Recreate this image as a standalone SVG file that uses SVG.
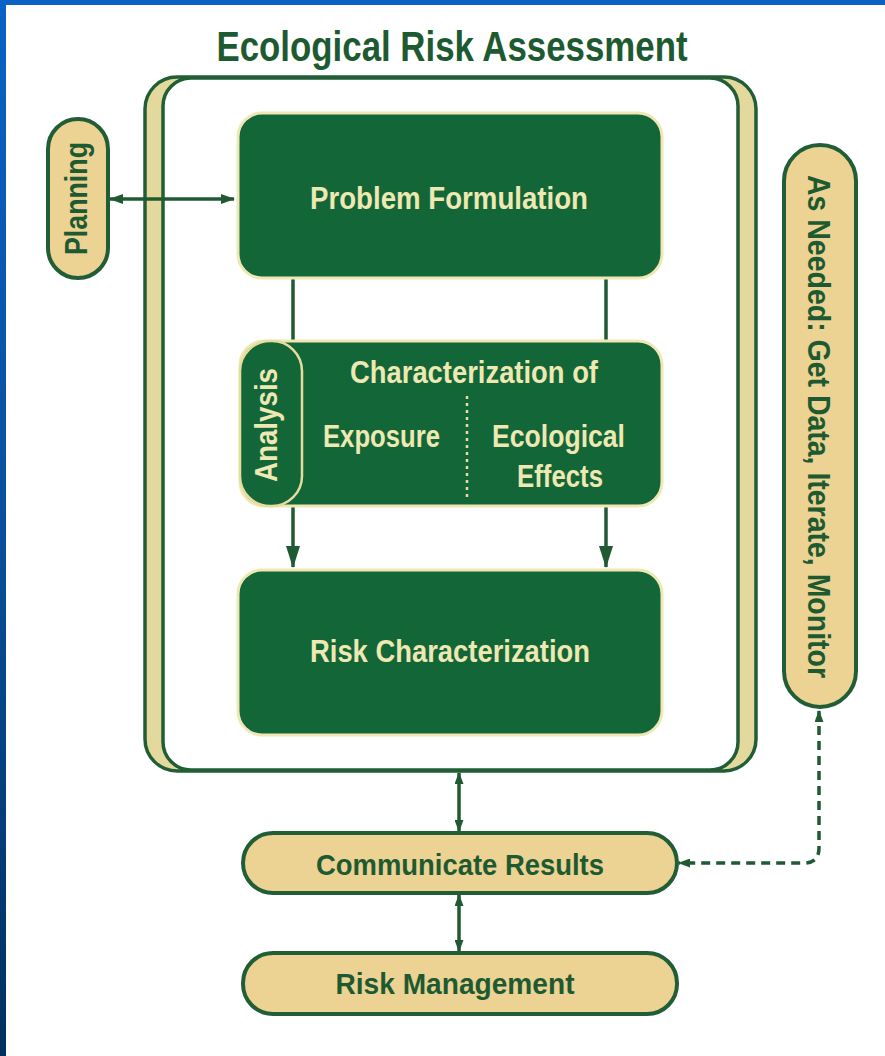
<svg xmlns="http://www.w3.org/2000/svg" width="885" height="1056" viewBox="0 0 885 1056">
<defs>
<style>
.t{font-family:"Liberation Sans",Arial,sans-serif;font-weight:bold}
.lt{fill:#eee8b2}
.dk{fill:#1e5a31}
.gbox{fill:#136638;stroke:#efe7b4;stroke-width:3}
.pill{fill:#ecd293;stroke:#215e36;stroke-width:4}
.ln{stroke:#1f5a33;stroke-width:3.5;fill:none}
.fr{stroke:#215e36;stroke-width:3.5}
</style>
<linearGradient id="blue" x1="0" y1="0" x2="0" y2="1">
<stop offset="0" stop-color="#0a62c6"/>
<stop offset="0.5" stop-color="#0a4f9e"/>
<stop offset="1" stop-color="#00305e"/>
</linearGradient>
<marker id="ah" viewBox="0 0 14 10" refX="13" refY="5" markerWidth="14" markerHeight="10" markerUnits="userSpaceOnUse" orient="auto-start-reverse">
<path d="M0,0 L14,5 L0,10 z" fill="#1f5a33"/>
</marker>
<marker id="ahs" viewBox="0 0 12 9" refX="11" refY="4.5" markerWidth="12" markerHeight="9" markerUnits="userSpaceOnUse" orient="auto-start-reverse">
<path d="M0,0 L12,4.5 L0,9 z" fill="#1f5a33"/>
</marker>
<marker id="ahL" viewBox="0 0 22 14" refX="21" refY="7" markerWidth="22" markerHeight="14" markerUnits="userSpaceOnUse" orient="auto">
<path d="M0,0 L22,7 L0,14 z" fill="#1f5a33"/>
</marker>
</defs>
<rect x="0" y="0" width="885" height="1056" fill="#ffffff"/>
<rect x="0" y="0" width="6" height="1056" fill="url(#blue)"/>
<rect x="0" y="0" width="885" height="5" fill="#0a62c6"/>

<g id="title">
<text class="t dk" x="452" y="61" font-size="42" text-anchor="middle" textLength="471" lengthAdjust="spacingAndGlyphs">Ecological Risk Assessment</text>
</g>

<g id="frame">
<rect class="fr" x="145" y="77" width="611" height="694" rx="32" fill="#e4d99c"/>
<rect class="fr" x="163" y="78" width="575" height="692" rx="28" fill="#ffffff"/>
</g>

<g id="connectors">
<line class="ln" x1="110" y1="199" x2="234" y2="199" marker-start="url(#ah)" marker-end="url(#ah)"/>
<line class="ln" x1="293" y1="279" x2="293" y2="341"/>
<line class="ln" x1="606" y1="279" x2="606" y2="341"/>
<line class="ln" x1="293" y1="507" x2="293" y2="567" marker-end="url(#ahL)"/>
<line class="ln" x1="606" y1="507" x2="606" y2="567" marker-end="url(#ahL)"/>
<line class="ln" x1="459" y1="773" x2="459" y2="831" marker-start="url(#ahs)" marker-end="url(#ahs)"/>
<line class="ln" x1="459" y1="895" x2="459" y2="951" marker-start="url(#ahs)" marker-end="url(#ahs)"/>
<path class="ln" d="M819,711 V848 Q819,863 804,863 H679" stroke-dasharray="9 6" marker-start="url(#ahs)" marker-end="url(#ahs)"/>
</g>

<g id="planning">
<rect class="pill" x="48" y="119" width="60" height="159" rx="30"/>
<text class="t dk" transform="translate(87,198.5) rotate(-90)" x="0" y="0" font-size="32" text-anchor="middle" textLength="113" lengthAdjust="spacingAndGlyphs">Planning</text>
</g>

<g id="problem-formulation">
<rect class="gbox" x="238" y="113" width="424" height="165" rx="24"/>
<text class="t lt" x="449" y="209" font-size="32" text-anchor="middle" textLength="278" lengthAdjust="spacingAndGlyphs">Problem Formulation</text>
</g>

<g id="analysis">
<rect class="gbox" x="240" y="341" width="422" height="165" rx="24"/>
<rect x="240" y="341" width="62" height="165" rx="30" fill="#136638" stroke="#e6dc9e" stroke-width="2.5"/>
<text class="t lt" transform="translate(277,425) rotate(-90)" x="0" y="0" font-size="32" text-anchor="middle" textLength="114" lengthAdjust="spacingAndGlyphs">Analysis</text>
<text class="t lt" x="474" y="383" font-size="31" text-anchor="middle" textLength="248" lengthAdjust="spacingAndGlyphs">Characterization of</text>
<text class="t lt" x="381.5" y="447" font-size="31" text-anchor="middle" textLength="117" lengthAdjust="spacingAndGlyphs">Exposure</text>
<text class="t lt" x="558.5" y="447" font-size="31" text-anchor="middle" textLength="133" lengthAdjust="spacingAndGlyphs">Ecological</text>
<text class="t lt" x="560" y="487" font-size="31" text-anchor="middle" textLength="86" lengthAdjust="spacingAndGlyphs">Effects</text>
<line x1="467" y1="396" x2="467" y2="500" stroke="#e6dc9e" stroke-width="2.5" stroke-dasharray="3 4"/>
</g>

<g id="risk-characterization">
<rect class="gbox" x="238" y="570" width="424" height="165" rx="24"/>
<text class="t lt" x="450" y="662" font-size="32" text-anchor="middle" textLength="280" lengthAdjust="spacingAndGlyphs">Risk Characterization</text>
</g>

<g id="as-needed">
<rect class="pill" x="784" y="145" width="72" height="562" rx="36"/>
<text class="t dk" transform="translate(808,426.5) rotate(90)" x="0" y="0" font-size="32" text-anchor="middle" textLength="503" lengthAdjust="spacingAndGlyphs">As Needed: Get Data, Iterate, Monitor</text>
</g>

<g id="communicate-results">
<rect class="pill" x="243" y="833" width="434" height="60" rx="30"/>
<text class="t dk" x="460" y="875" font-size="30" text-anchor="middle" textLength="288" lengthAdjust="spacingAndGlyphs">Communicate Results</text>
</g>

<g id="risk-management">
<rect class="pill" x="243" y="953" width="434" height="61" rx="30"/>
<text class="t dk" x="455" y="994" font-size="30" text-anchor="middle" textLength="239" lengthAdjust="spacingAndGlyphs">Risk Management</text>
</g>
</svg>
